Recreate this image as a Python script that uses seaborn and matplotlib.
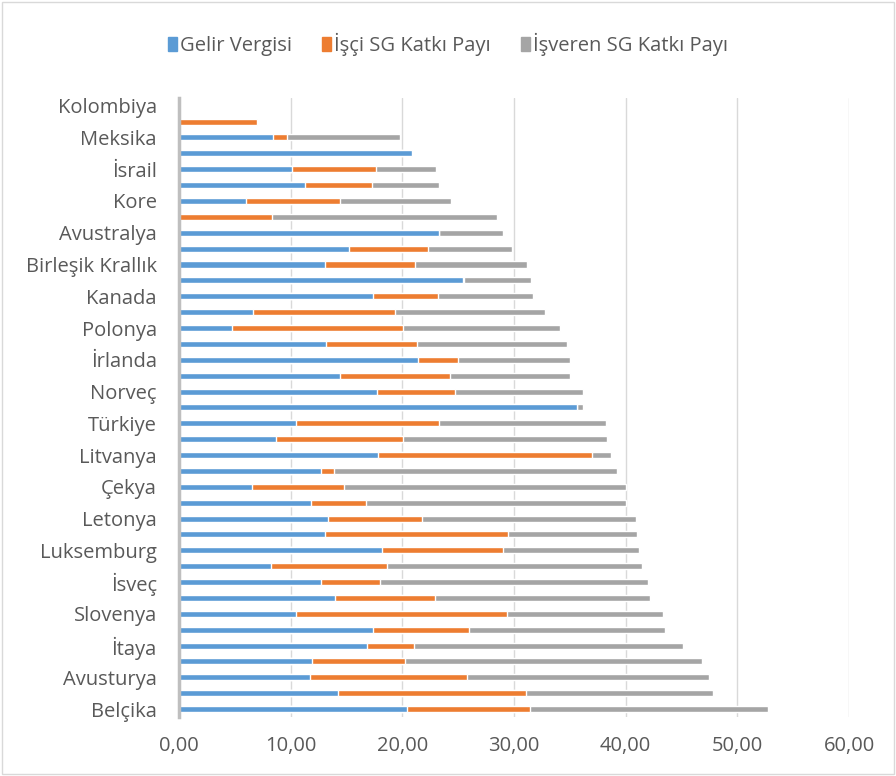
import matplotlib
matplotlib.use("Agg")
import matplotlib.pyplot as plt
import seaborn as sns
import pandas as pd
from matplotlib.patches import Patch, Rectangle

# ülkeler (yukarıdan aşağıya)
ulkeler = ["Kolombiya", "Şili", "Meksika", "Yeni Zelanda", "İsrail", "İsviçre", "Kore",
           "Kosta Rika", "Avustralya", "Japonya", "Birleşik Krallık", "İzlanda", "Kanada",
           "Hollanda", "Polonya", "OECD Ortalaması", "İrlanda", "Yunanistan", "Norveç",
           "Danimarka", "Türkiye", "ABD", "Litvanya", "Estonya", "Çekya", "İspanya",
           "Letonya", "Slovakya", "Luksemburg", "Finlandiya", "İsveç", "Portekiz",
           "Slovenya", "Macaristan", "İtaya", "Fransa", "Avusturya", "Almanya", "Belçika"]

gelir_vergisi = [0.0, 0.0, 8.45, 20.9, 10.15, 11.28, 6.0, 0.0, 23.3, 15.2, 13.1, 25.4, 17.4,
                 6.66, 4.78, 13.2, 21.4, 14.45, 17.7, 35.6, 10.5, 8.7, 17.8, 12.75, 6.5, 11.8,
                 13.3, 13.1, 18.2, 8.24, 12.75, 14.0, 10.5, 17.4, 16.8, 11.9, 11.75, 14.2, 20.4]
isci_sg = [0.0, 7.0, 1.19, 0.0, 7.49, 6.02, 8.4, 8.36, 0.0, 7.1, 8.0, 0.15, 5.8,
           12.64, 15.28, 8.1, 3.6, 9.85, 7.0, 0.0, 12.8, 11.4, 19.2, 1.15, 8.25, 4.9,
           8.5, 16.4, 10.8, 10.36, 5.25, 8.9, 18.9, 8.6, 4.2, 8.3, 14.0, 16.9, 11.0]
isveren_sg = [0.0, 0.0, 10.16, 0.0, 5.36, 6.0, 10.0, 20.14, 5.7, 7.5, 10.1, 6.0, 8.5,
              13.5, 14.04, 13.4, 10.0, 10.7, 11.5, 0.6, 14.9, 18.2, 1.7, 25.3, 25.31, 23.36,
              19.1, 11.5, 12.2, 22.9, 24.0, 19.25, 13.9, 17.5, 24.1, 26.6, 21.75, 16.7, 21.3]

df = pd.DataFrame({"ulke": ulkeler, "gelir": gelir_vergisi, "isci": isci_sg, "isveren": isveren_sg})
df["gelir_isci"] = df["gelir"] + df["isci"]
df["toplam"] = df["gelir_isci"] + df["isveren"]

mavi, turuncu, gri = "#5B9BD5", "#ED7D31", "#A5A5A5"
yazi = "#595959"

sns.set_style("white")
plt.rcParams["font.family"] = ["Open Sans", "DejaVu Sans"]

fig = plt.figure(figsize=(8.96, 7.76), dpi=100)
ax = fig.add_axes([0.1998, 0.076, 0.7478, 0.798])

# yığılmış çubuklar: önce toplam, sonra üst üste
sns.barplot(data=df, y="ulke", x="toplam", color=gri, width=0.38, orient="h", ax=ax, saturation=1)
sns.barplot(data=df, y="ulke", x="gelir_isci", color=turuncu, width=0.38, orient="h", ax=ax, saturation=1)
sns.barplot(data=df, y="ulke", x="gelir", color=mavi, width=0.38, orient="h", ax=ax, saturation=1)

ax.set_xlim(0, 60)
ax.set_xticks(range(0, 61, 10))
ax.set_xticklabels([f"{v},00" for v in range(0, 61, 10)], fontsize=14.5, color=yazi)
ax.set_yticks(range(len(ulkeler)))
ax.set_yticklabels([u if i % 2 == 0 else "" for i, u in enumerate(ulkeler)], fontsize=14.5, color=yazi)
ax.tick_params(axis="x", length=0, pad=14)
ax.tick_params(axis="y", length=0, pad=16)
ax.set_xlabel("")
ax.set_ylabel("")
ax.grid(axis="x", color="#D9D9D9", linewidth=1)
ax.set_axisbelow(True)
for s in ["top", "right", "bottom"]:
    ax.spines[s].set_visible(False)
ax.spines["left"].set_color("#BFBFBF")
ax.spines["left"].set_linewidth(2.5)

handles = [Patch(color=mavi, label="Gelir Vergisi"),
           Patch(color=turuncu, label="İşçi SG Katkı Payı"),
           Patch(color=gri, label="İşveren SG Katkı Payı")]
fig.legend(handles=handles, loc="center", bbox_to_anchor=(0.5, 0.943), ncol=3, frameon=False,
           fontsize=14.5, handlelength=0.45, handleheight=0.7, handletextpad=0.15, columnspacing=1.5,
           labelcolor=yazi)

fig.patches.append(Rectangle((0.002, 0.002), 0.996, 0.996, transform=fig.transFigure,
                             fill=False, edgecolor="#D9D9D9", linewidth=1))

fig.savefig("out.png", dpi=100)
